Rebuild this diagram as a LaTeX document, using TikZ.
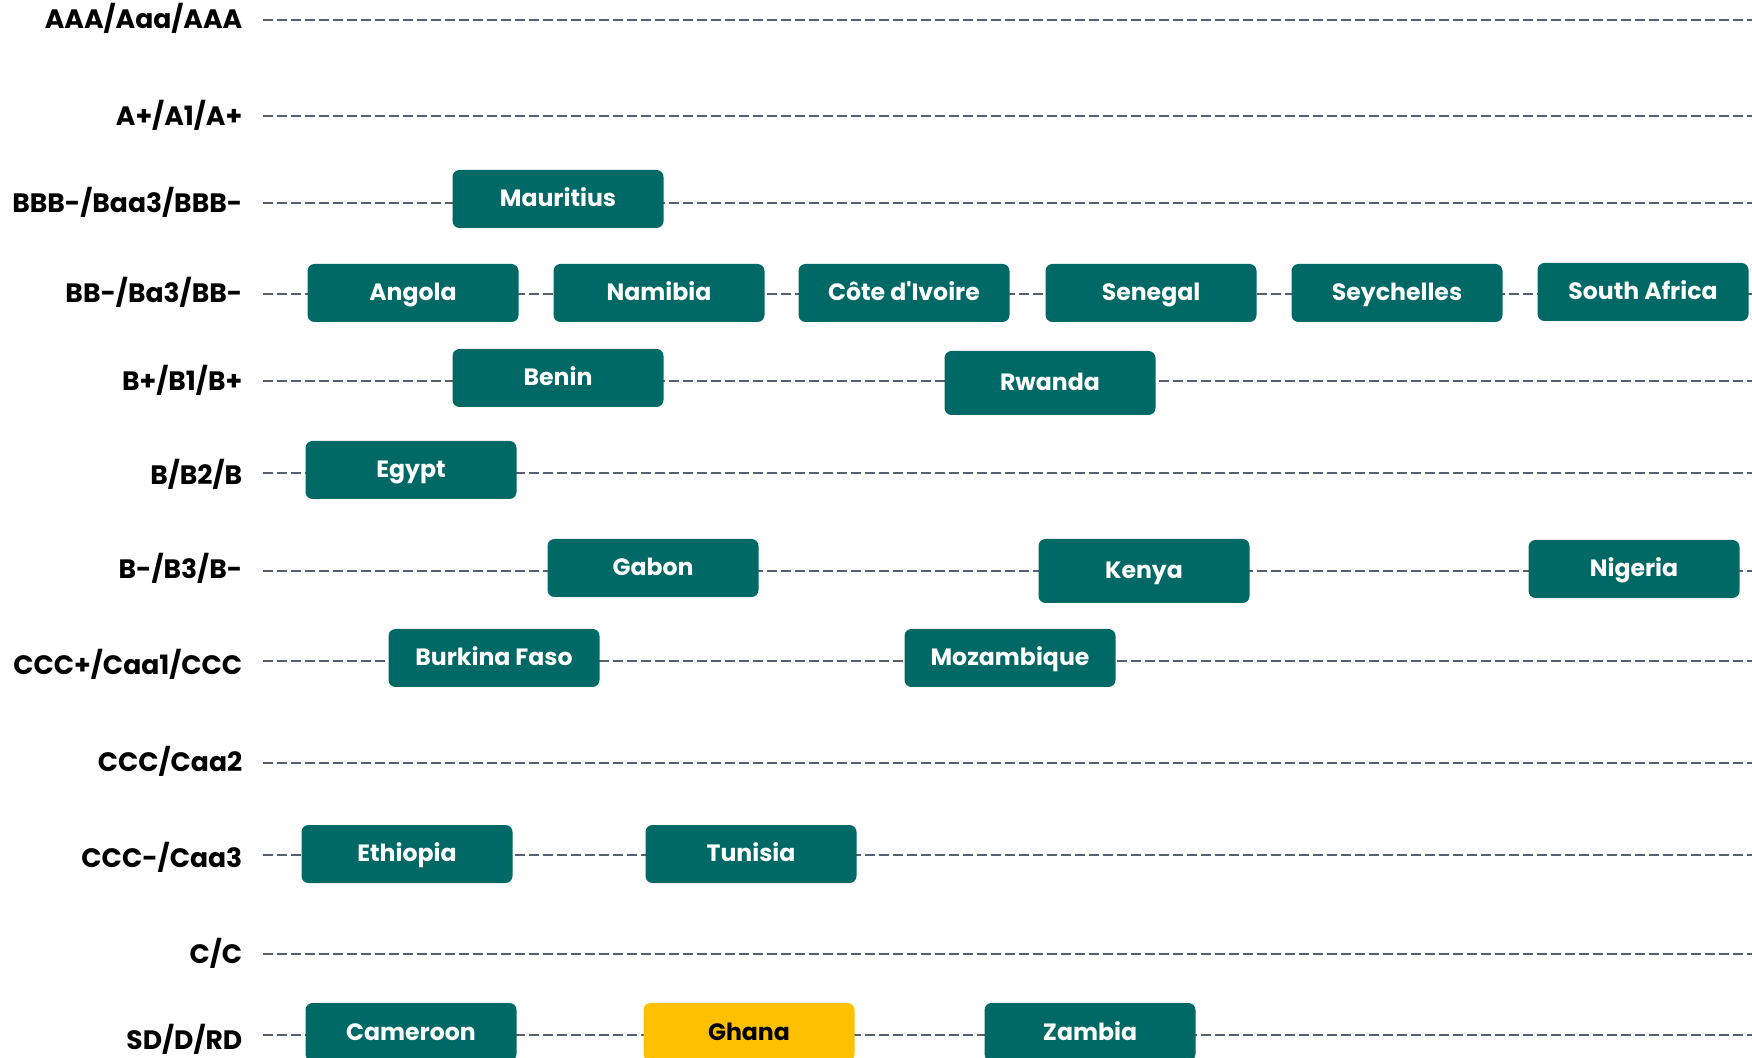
\documentclass[tikz,border=0pt]{standalone}
\usepackage{fontspec}
\setmainfont{Poppins}
\definecolor{teal1}{RGB}{0,105,101}
\definecolor{gold1}{RGB}{255,192,0}
\definecolor{rule1}{RGB}{88,96,110}
\tikzset{every picture/.style={line width=0.75pt}}
\tikzset{
  grade/.style={anchor=east, inner sep=0pt, text height=9pt, text depth=0pt, font=\fontsize{13.3}{15}\selectfont\bfseries},
  rowline/.style={draw=rule1, line width=1pt, dash pattern=on 4.8pt off 2.2pt},
  country/.style={fill=teal1, rounded corners=3.5pt, minimum width=105.5pt, minimum height=29pt, inner sep=0pt, text=white, font=\fontsize{11.8}{13}\selectfont\bfseries, text height=8pt, text depth=0pt},
  tallbox/.style={minimum height=32pt},
  hilite/.style={fill=gold1, text=black}
}

\begin{document}
\begin{tikzpicture}[x=0.5pt,y=0.5pt,yscale=-1,xscale=1]
	\useasboundingbox (0,0) rectangle (1752,1058);
	\clip (0,0) rectangle (1752,1058);
	
	%rating rows: label and dashed line
	\foreach \id/\txt/\y/\ly in {aaa/{AAA/Aaa/AAA}/20/20, ap/{A+/A1/A+}/116/117, bbbm/{BBB-/Baa3/BBB-}/203/204,
	    bbm/{BB-/Ba3/BB-}/294/294, bp/{B+/B1/B+}/381/382, b/{B/B2/B}/473/476, bm/{B-/B3/B-}/571/570,
	    cccp/{CCC+/Caa1/CCC}/661/666, ccc/{CCC/Caa2}/763/762, cccm/{CCC-/Caa3}/855/858, c/{C/C}/954/954, sd/{SD/D/RD}/1035/1040}{
	  \node[grade] (lab-\id) at (243,\ly) {\txt};
	  \coordinate (start-\id) at (263,\y);
	  \coordinate (end-\id) at (1752,\y);
	  \draw[rowline] (start-\id) -- (end-\id);
	}
	
	%countries
	\node[country] (mauritius) at (558,199) {Mauritius};
	
	\node[country] (angola) at (413,293) {Angola};
	\node[country] (namibia) at (659,293) {Namibia};
	\node[country] (civ) at (904,293) {Côte d\textquotesingle Ivoire};
	\node[country] (senegal) at (1151,293) {Senegal};
	\node[country] (seychelles) at (1397,293) {Seychelles};
	\node[country] (safrica) at (1643,292) {South Africa};
	
	\node[country] (benin) at (558,378) {Benin};
	\node[country,tallbox] (rwanda) at (1050,383) {Rwanda};
	
	\node[country] (egypt) at (411,470) {Egypt};
	
	\node[country] (gabon) at (653,568) {Gabon};
	\node[country,tallbox] (kenya) at (1144,571) {Kenya};
	\node[country] (nigeria) at (1634,569) {Nigeria};
	
	\node[country] (burkina) at (494,658) {Burkina Faso};
	\node[country] (mozambique) at (1010,658) {Mozambique};
	
	\node[country] (ethiopia) at (407,854) {Ethiopia};
	\node[country] (tunisia) at (751,854) {Tunisia};
	
	\node[country] (cameroon) at (411,1032) {Cameroon};
	\node[country,hilite] (ghana) at (749,1032) {Ghana};
	\node[country] (zambia) at (1090,1032) {Zambia};
	
\end{tikzpicture}
\end{document}
